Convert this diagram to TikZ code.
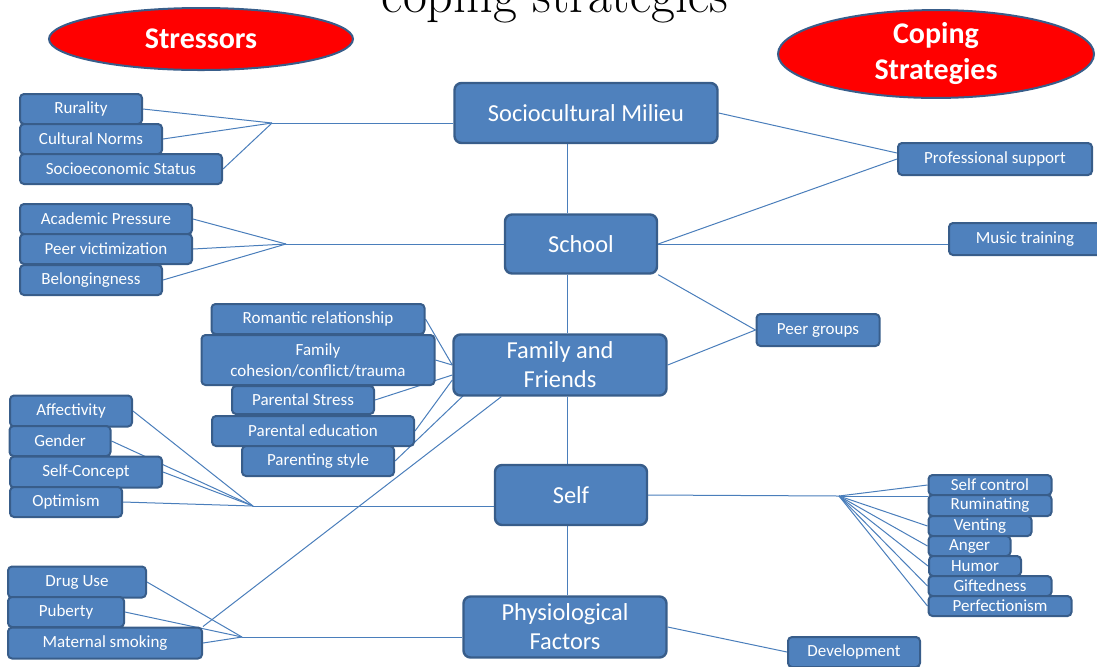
\documentclass[tikz,border=0pt]{standalone}
\usepackage{fontspec}
\setsansfont{Carlito}
\usepackage{tikz}
\usetikzlibrary{shapes.geometric,backgrounds}
\definecolor{boxblue}{HTML}{4F81BD}
\definecolor{edgeblue}{HTML}{385D8A}
\definecolor{linkblue}{HTML}{4A7EBB}
\definecolor{alarm}{HTML}{FF0000}
\tikzset{
  hub/.style={rectangle, rounded corners=3.5pt, draw=edgeblue, fill=boxblue, line width=1.2pt, text=white,
              align=center, inner sep=0pt, font=\sffamily\fontsize{12.2}{14.5}\selectfont},
  leaf/.style={hub, rounded corners=2pt, line width=1pt, font=\sffamily\fontsize{8.5}{10.5}\selectfont},
  tag/.style={ellipse, draw=edgeblue, fill=alarm, line width=1pt, text=white, align=center,
              inner sep=0pt, font=\sffamily\bfseries\fontsize{15}{18}\selectfont},
  link/.style={draw=linkblue, line width=0.5pt}
}
\begin{document}
\begin{tikzpicture}[x=0.5pt, y=-0.5pt]
 \clip (0,0) rectangle (1097,666);
 % heading and the two group labels
 \node[anchor=base, font=\rmfamily\fontsize{26}{26}\selectfont] (title) at (555,12) {coping strategies};
 \node[tag, minimum width=152pt, minimum height=31pt] (stress) at (201,39) {Stressors};
 \node[tag, minimum width=158pt, minimum height=41pt] (cope) at (936,54) {Coping\\Strategies};
 % central spine
 \node[hub, minimum width=131.5pt, minimum height=30pt] (soc) at (586,113) {Sociocultural Milieu};
 \node[hub, minimum width=76pt, minimum height=29.5pt] (school) at (581,244) {School};
 \node[hub, minimum width=106.5pt, minimum height=30.5pt] (fam) at (560,365) {Family and\\Friends};
 \node[hub, minimum width=76pt, minimum height=30pt] (self) at (571,495) {Self};
 \node[hub, minimum width=101.5pt, minimum height=30.5pt] (phys) at (565,627) {Physiological\\Factors};
 % stressors
 \node[leaf, minimum width=61pt, minimum height=15pt] (rur) at (81,109) {Rurality};
 \node[leaf, minimum width=71pt, minimum height=15pt] (cul) at (91,139) {Cultural Norms};
 \node[leaf, minimum width=101pt, minimum height=15pt] (ses) at (121,169) {Socioeconomic Status};
 \node[leaf, minimum width=86pt, minimum height=15pt] (acad) at (106,219) {Academic Pressure};
 \node[leaf, minimum width=86pt, minimum height=15pt] (peer) at (106,249) {Peer victimization};
 \node[leaf, minimum width=71pt, minimum height=15pt] (bel) at (91,280) {Belongingness};
 \node[leaf, minimum width=106.5pt, minimum height=15pt] (rom) at (318,319) {Romantic relationship};
 \node[leaf, minimum width=116.5pt, minimum height=25pt] (coh) at (318,360) {Family\\cohesion/conflict/trauma};
 \node[leaf, minimum width=71pt, minimum height=14pt] (pst) at (303,400) {Parental Stress};
 \node[leaf, minimum width=101pt, minimum height=15pt] (ped) at (313,431) {Parental education};
 \node[leaf, minimum width=76pt, minimum height=15pt] (pstyle) at (318,461) {Parenting style};
 \node[leaf, minimum width=61pt, minimum height=15.5pt] (aff) at (71,411) {Affectivity};
 \node[leaf, minimum width=50.5pt, minimum height=15pt] (gen) at (60,441) {Gender};
 \node[leaf, minimum width=76pt, minimum height=15.5pt] (scon) at (86,472) {Self-Concept};
 \node[leaf, minimum width=56pt, minimum height=15pt] (opt) at (66,502) {Optimism};
 \node[leaf, minimum width=69pt, minimum height=15.5pt] (drug) at (77,582) {Drug Use};
 \node[leaf, minimum width=58pt, minimum height=15pt] (pub) at (66,612) {Puberty};
 \node[leaf, minimum width=97pt, minimum height=15.5pt] (mat) at (105,643) {Maternal smoking};
 % coping strategies
 \node[leaf, minimum width=97pt, minimum height=16pt] (prof) at (995,159) {Professional support};
 \node[leaf, minimum width=76pt, minimum height=16pt] (music) at (1025,239) {Music training};
 \node[leaf, minimum width=61.5pt, minimum height=16pt] (peergrp) at (818,330) {Peer groups};
 \node[leaf, minimum width=66pt, minimum height=15pt] (dev) at (854,652) {Development};
 \node[leaf, minimum width=61.5pt, minimum height=10pt] (sctrl) at (990,485) {Self control};
 \node[leaf, minimum width=61.5pt, minimum height=10.5pt] (rum) at (990,505.5) {Ruminating};
 \node[leaf, minimum width=51.5pt, minimum height=10pt] (vent) at (980,526) {Venting};
 \node[leaf, minimum width=41pt, minimum height=10pt] (anger) at (969.5,546) {Anger};
 \node[leaf, minimum width=46pt, minimum height=10pt] (humor) at (975,566) {Humor};
 \node[leaf, minimum width=61.5pt, minimum height=10pt] (gift) at (990,586) {Giftedness};
 \node[leaf, minimum width=71.5pt, minimum height=10pt] (perf) at (1000,606) {Perfectionism};
 % meeting points of the fans
 \coordinate (socjoin) at (272,123);
 \coordinate (schjoin) at (286,244);
 \coordinate (selfjoin) at (253,506);
 \coordinate (physjoin) at (242,637);
 \coordinate (copejoin) at (839,496);
 \coordinate (spine) at (567,0);
 \begin{scope}[on background layer]
  \draw[link](soc.south -| spine)--(school.north -| spine); \draw[link](school.south -| spine)--(fam.north -| spine);
  \draw[link](fam.south -| spine)--(self.north -| spine); \draw[link](self.south -| spine)--(phys.north -| spine);
  \draw[link](rur.east)--(socjoin); \draw[link](cul.east)--(socjoin); \draw[link](ses.east)--(socjoin);
  \draw[link](socjoin)--(socjoin -| soc.west);
  \draw[link](acad.east)--(schjoin); \draw[link](peer.east)--(schjoin); \draw[link](bel.east)--(schjoin);
  \draw[link](schjoin)--(school.west);
  \draw[link](rom.east)--(fam.west); \draw[link](coh.east)--(fam.west);
  \draw[link](pst.east)--([yshift=-5pt]fam.west); \draw[link](ped.east)--([yshift=-7.5pt]fam.west);
  \draw[link](pstyle.east)--([xshift=10pt,yshift=-11pt]fam.west);
  \draw[link](mat.north east)--([xshift=24.5pt]fam.south west);
  \draw[link](aff.east)--(selfjoin); \draw[link](gen.east)--(selfjoin); \draw[link](scon.east)--(selfjoin);
  \draw[link](opt.east)--(selfjoin); \draw[link](selfjoin)--(selfjoin -| self.west);
  \draw[link](drug.east)--(physjoin); \draw[link](pub.east)--(physjoin); \draw[link](mat.east)--(physjoin);
  \draw[link](physjoin)--(physjoin -| phys.west);
  \draw[link](soc.east)--([yshift=3pt]prof.west); \draw[link](school.east)--(prof.west);
  \draw[link](school.east)--(school.east -| music.west);
  \draw[link](school.south east)--(peergrp.west); \draw[link](fam.east)--(peergrp.west);
  \draw[link](phys.east)--(dev.west);
  \draw[link](self.east)--(copejoin);
  \draw[link](copejoin)--(sctrl.west); \draw[link](copejoin)--(copejoin -| rum.west);
  \draw[link](copejoin)--(vent.west); \draw[link](copejoin)--(anger.west); \draw[link](copejoin)--(humor.west);
  \draw[link](copejoin)--(gift.west); \draw[link](copejoin)--(perf.west);
 \end{scope}
\end{tikzpicture}
\end{document}
